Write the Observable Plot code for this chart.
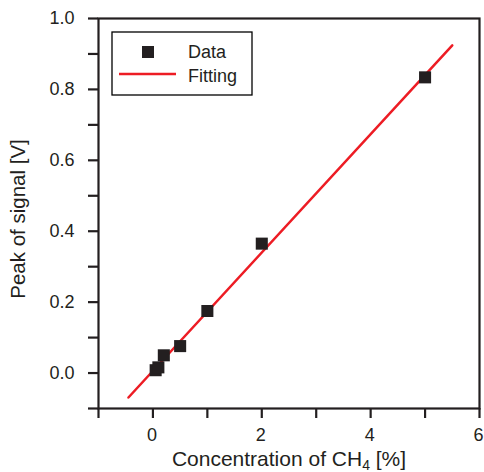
<!DOCTYPE html>
<html>
<head>
<meta charset="utf-8">
<script src="https://cdn.jsdelivr.net/npm/d3@7"></script>
<script src="https://cdn.jsdelivr.net/npm/@observablehq/plot@0.6"></script>
<style>
  body { margin: 0; background: #fff; }
  #chart svg { display: block; font-family: "Liberation Sans", Arial, sans-serif; }
</style>
</head>
<body>
<div id="chart"></div>
<script>
// Measured peak signal against methane concentration
const concentration = [0.05, 0.1, 0.2, 0.5, 1, 2, 5];
const peak = [0.008, 0.016, 0.050, 0.076, 0.175, 0.365, 0.834];

// Linear fit, drawn between its two end points
const fitConcentration = [-0.45, 5.5];
const fitPeak = [-0.069, 0.924];

// Axis ticks (all) and labelled ticks
const xTicks = [-1, 0, 1, 2, 3, 4, 5, 6];
const xLabels = [0, 2, 4, 6];
const yTicks = [-0.1, 0, 0.1, 0.2, 0.3, 0.4, 0.5, 0.6, 0.7, 0.8, 0.9, 1.0];
const yLabels = [0, 0.2, 0.4, 0.6, 0.8, 1.0];

const seriesNames = ["Data", "Fitting"];
const xTitleMain = "Concentration of CH";
const xTitleSub = "4";
const xTitleTail = " [%]";
const yTitle = "Peak of signal [V]";

const ink = "#231f20";
const red = "#ed1c24";

const points = concentration.map((c, i) => ({c, v: peak[i]}));
const fit = fitConcentration.map((c, i) => ({c, v: fitPeak[i]}));

const chart = Plot.plot({
  width: 484,
  height: 472,
  marginLeft: 98,
  marginRight: 5,
  marginTop: 18,
  marginBottom: 64,
  x: {domain: [-1, 6]},
  y: {domain: [-0.1, 1.0]},
  style: {fontFamily: "'Liberation Sans', Arial, sans-serif", fontSize: "18px", color: ink, background: "#fff"},
  marks: [
    // tick marks
    Plot.axisX(xTicks, {tickSize: 10, strokeWidth: 2.2, stroke: ink, tickFormat: () => "", label: null}),
    Plot.axisY(yTicks, {tickSize: 10, strokeWidth: 2.2, stroke: ink, tickFormat: () => "", label: null}),
    // tick labels
    Plot.axisX(xLabels, {tickSize: 0, tickPadding: 20, tickFormat: d => String(d), label: null, fontSize: 18, dx: -1}),
    Plot.axisY(yLabels, {tickSize: 0, tickPadding: 24, tickFormat: d => d.toFixed(1), label: null, fontSize: 18}),
    Plot.line(fit, {x: "c", y: "v", stroke: red, strokeWidth: 2.5}),
    Plot.dot(points, {x: "c", y: "v", symbol: "square", r: 6.8, fill: ink, stroke: "none"}),
    Plot.frame({stroke: ink, strokeWidth: 2.2})
  ]
});

document.getElementById("chart").appendChild(chart);

const svg = d3.select(chart);
const font = "'Liberation Sans', Arial, sans-serif";

// x-axis title with subscript
const xt = svg.append("text")
  .attr("x", 289).attr("y", 466)
  .attr("text-anchor", "middle")
  .attr("font-family", font).attr("font-size", 21).attr("fill", ink);
xt.append("tspan").text(xTitleMain);
xt.append("tspan").attr("font-size", 14).attr("dy", 4).text(xTitleSub);
xt.append("tspan").attr("dy", -4).text(xTitleTail);

// y-axis title
svg.append("text")
  .attr("transform", "translate(25,219) rotate(-90)")
  .attr("text-anchor", "middle")
  .attr("font-family", font).attr("font-size", 20.5).attr("fill", ink)
  .text(yTitle);

// legend
const lg = svg.append("g");
lg.append("rect")
  .attr("x", 112).attr("y", 32).attr("width", 140).attr("height", 63)
  .attr("fill", "#fff").attr("stroke", "#000").attr("stroke-width", 1.3);
lg.append("rect")
  .attr("x", 142).attr("y", 46).attr("width", 12).attr("height", 12)
  .attr("fill", ink);
lg.append("line")
  .attr("x1", 119).attr("x2", 176).attr("y1", 74).attr("y2", 74)
  .attr("stroke", red).attr("stroke-width", 2.5);
lg.selectAll("text.name").data(seriesNames).join("text")
  .attr("class", "name")
  .attr("x", 188)
  .attr("y", (d, i) => 57.5 + i * 24.5)
  .attr("text-anchor", "start")
  .attr("font-family", font).attr("font-size", 18).attr("fill", ink)
  .text(d => d);
</script>
</body>
</html>
